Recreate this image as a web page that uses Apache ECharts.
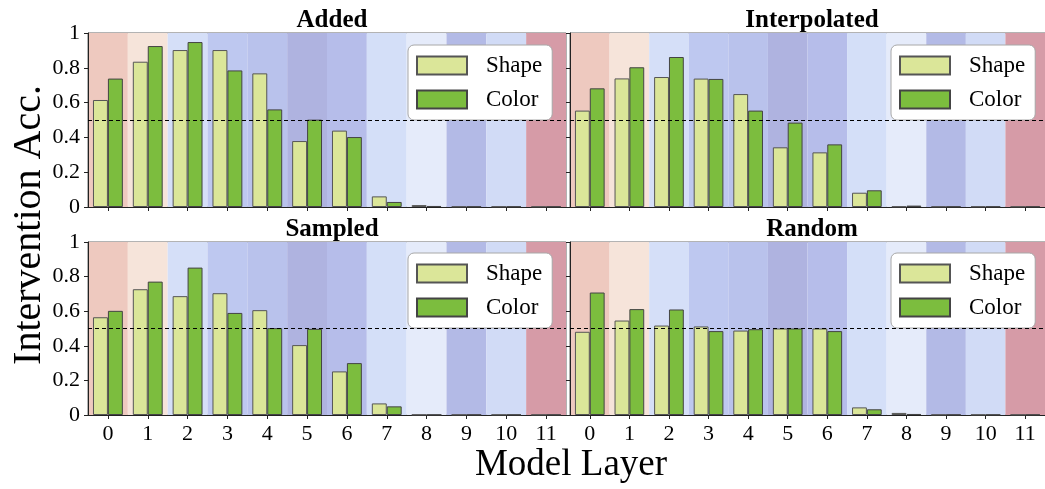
<!DOCTYPE html>
<html lang="en" style="height: 100%">
<head>
    <meta charset="UTF-8">
    <title>Intervention Acc. by Model Layer</title>
</head>
<body style="height: 100%; margin: 0; background: #fff">
<div id="container" style="width: 1045px; height: 489px"></div>
<script src="https://cdn.jsdelivr.net/npm/echarts@6/dist/echarts.min.js"></script>
<script>
    // data
    const layers = ['0', '1', '2', '3', '4', '5', '6', '7', '8', '9', '10', '11'];
    const panelNames = ['Added', 'Interpolated', 'Sampled', 'Random'];

    const addedShape = [0.615, 0.835, 0.902, 0.902, 0.768, 0.379, 0.439, 0.061, 0.011, 0.003, 0.003, 0.003];
    const addedColor = [0.738, 0.925, 0.948, 0.785, 0.561, 0.502, 0.402, 0.029, 0.006, 0.003, 0.003, 0.003];
    const interpShape = [0.554, 0.739, 0.747, 0.738, 0.649, 0.343, 0.314, 0.082, 0.003, 0.003, 0.003, 0.003];
    const interpColor = [0.682, 0.803, 0.862, 0.736, 0.554, 0.485, 0.360, 0.096, 0.008, 0.003, 0.003, 0.003];
    const sampledShape = [0.565, 0.727, 0.687, 0.704, 0.606, 0.404, 0.252, 0.067, 0.002, 0.002, 0.002, 0.002];
    const sampledColor = [0.602, 0.771, 0.852, 0.590, 0.502, 0.498, 0.300, 0.050, 0.002, 0.002, 0.002, 0.002];
    const randomShape = [0.481, 0.546, 0.517, 0.512, 0.488, 0.500, 0.500, 0.044, 0.012, 0.002, 0.002, 0.002];
    const randomColor = [0.708, 0.612, 0.610, 0.485, 0.496, 0.500, 0.485, 0.033, 0.006, 0.002, 0.002, 0.002];
    const chanceLevel = 0.5;

    const shapeSets = [addedShape, interpShape, sampledShape, randomShape];
    const colorSets = [addedColor, interpColor, sampledColor, randomColor];

    // per-layer background shades (coolwarm-like)
    const layerShade = ['#eec9bf', '#f6e4da', '#d5dff8', '#bec8f0', '#b9c2ec', '#afb3e0',
        '#b6bdea', '#d4dff8', '#e5ebfa', '#b3bae6', '#d1dbf6', '#d69ba7'];

    const FONT = '"Liberation Serif", "DejaVu Serif", serif';

    // panel boxes [left, top, width, height]
    const boxes = [
        [88, 33, 478, 174],
        [570, 33, 478, 174],
        [88, 242, 478, 173],
        [570, 242, 478, 173]
    ];
    const legendPos = [[408, 45], [891, 45], [408, 253], [891, 253]];

    const chart = echarts.init(document.getElementById('container'), null, {renderer: 'canvas'});

    const option = {
        animation: false,
        backgroundColor: '#fff',
        title: boxes.map(function (b, i) {
            return {
                text: panelNames[i],
                left: b[0] + b[2] / 2 - (i % 2 ? 2 : 0),
                top: b[1] - 30,
                textAlign: 'center',
                textStyle: {fontFamily: FONT, fontWeight: 'bold', fontSize: 25, color: '#000'}
            };
        }),
        legend: legendPos.map(function (p) {
            return {
                data: ['Shape', 'Color'],
                orient: 'vertical',
                left: p[0],
                top: p[1],
                padding: [9, 10, 9, 8],
                icon: 'rect',
                itemWidth: 50,
                itemHeight: 18,
                itemGap: 11,
                selectedMode: false,
                backgroundColor: '#fff',
                borderColor: '#a8a8a8',
                borderWidth: 1,
                borderRadius: 6,
                textStyle: {fontFamily: FONT, fontSize: 23, color: '#000', padding: [0, 0, 0, 14]}
            };
        }),
        grid: boxes.map(function (b) {
            return {left: b[0], top: b[1], width: b[2], height: b[3], show: true, borderColor: '#666', borderWidth: 1};
        }),
        xAxis: boxes.map(function (b, i) {
            return {
                type: 'category',
                gridIndex: i,
                data: layers,
                axisLine: {show: true, lineStyle: {color: '#222', width: 1}},
                axisTick: {show: true, alignWithLabel: true, length: 4, lineStyle: {color: '#222'}},
                axisLabel: {show: i >= 2, fontFamily: FONT, fontSize: 22, color: '#000', margin: 8},
                splitLine: {show: false},
                splitArea: {show: true, areaStyle: {color: layerShade, opacity: 1}}
            };
        }),
        yAxis: boxes.map(function (b, i) {
            return {
                type: 'value',
                gridIndex: i,
                min: 0,
                max: 1,
                interval: 0.2,
                axisLine: {show: true, lineStyle: {color: '#222', width: 1}},
                axisTick: {show: true, length: 4, lineStyle: {color: '#222'}},
                axisLabel: {show: i % 2 === 0, fontFamily: FONT, fontSize: 22, color: '#000', margin: 8},
                splitLine: {show: false}
            };
        }),
        series: [],
        graphic: [
            {
                type: 'text',
                x: 29,
                y: 225,
                rotation: Math.PI / 2,
                style: {
                    text: 'Intervention Acc.',
                    fontFamily: FONT,
                    fontSize: 40,
                    fill: '#000',
                    align: 'center',
                    verticalAlign: 'middle'
                }
            },
            {
                type: 'text',
                x: 571,
                y: 465,
                style: {
                    text: 'Model Layer',
                    fontFamily: FONT,
                    fontSize: 37,
                    fill: '#000',
                    align: 'center',
                    verticalAlign: 'middle'
                }
            }
        ]
    };

    for (let i = 0; i < 4; i++) {
        option.series.push({
            type: 'bar',
            name: 'Shape',
            xAxisIndex: i,
            yAxisIndex: i,
            data: shapeSets[i],
            barGap: '0%',
            barCategoryGap: '25%',
            itemStyle: {color: '#dbe699', borderColor: '#555', borderWidth: 1}
        });
        option.series.push({
            type: 'bar',
            name: 'Color',
            xAxisIndex: i,
            yAxisIndex: i,
            data: colorSets[i],
            barGap: '0%',
            barCategoryGap: '25%',
            itemStyle: {color: '#7cbd3e', borderColor: '#444', borderWidth: 1},
            markLine: {
                silent: true,
                symbol: 'none',
                label: {show: false},
                lineStyle: {color: '#000', type: [4, 3], width: 1},
                data: [{yAxis: chanceLevel}]
            }
        });
    }

    chart.setOption(option);
</script>
</body>
</html>
